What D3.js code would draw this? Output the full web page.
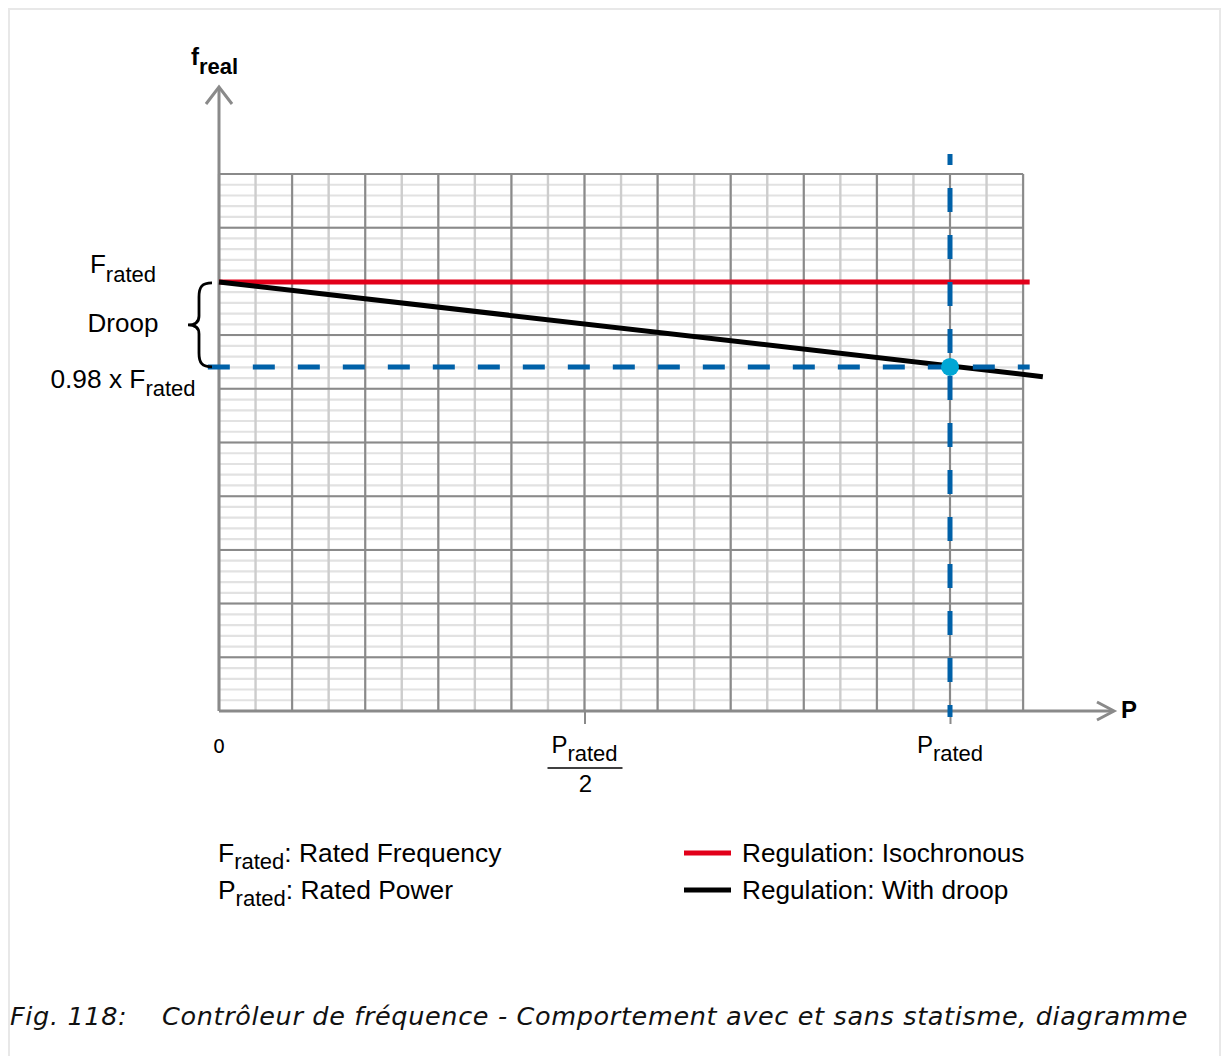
<!DOCTYPE html>
<html><head><meta charset="utf-8">
<script src="https://cdn.jsdelivr.net/npm/d3@7"></script>
<style>body{margin:0;background:#fff}svg{display:block}</style>
</head><body>
<svg id="c" width="1227" height="1056"></svg>
<script>
// ---- data ----
const pDomain = [0, 1.1];              // P / Prated
const fDomain = [0.899, 1.0254];       // f / Frated
const isoP = [0, 1.109];
const isoF = [1.0, 1.0];
const droopP = [0, 1.127];
const droopF = [1.0, 0.9777];
const ratedP = 1.0;
const droopF98 = 0.98;
const refHP = [-0.0153, 1.109];
const refVF = [0.8976, 1.0301];
const xTickValues = [0, 0.5, 1.0];
const xTickLabels = ["0", "Prated/2", "Prated"];
const legendItems = ["Regulation: Isochronous", "Regulation: With droop"];
const legendColors = ["#e2001a", "#000000"];
const noteItems = [["F", "rated", ": Rated Frequency"], ["P", "rated", ": Rated Power"]];

// ---- setup ----
const svg = d3.select("#c");
const FONT = "'Liberation Sans', Arial, sans-serif";
const x = d3.scaleLinear().domain(pDomain).range([219, 1023.1]);
const y = d3.scaleLinear().domain(fDomain).range([711, 174]);
const GRID_MAJOR = "#8a8a8a", GRID_MINOR_V = "#cdcdcd", GRID_MINOR_H = "#e2e2e2";
const BLUE = "#0061a8";

// frame
svg.append("rect").attr("x", 9).attr("y", 9).attr("width", 1211).attr("height", 1100)
  .attr("fill", "none").attr("stroke", "#e8e8e8").attr("stroke-width", 2);

// ---- grid ----
const span = fDomain[1] - fDomain[0];
const hMinor = d3.range(51).map(i => fDomain[0] + i * span / 50);
const hMajor = d3.range(11).map(i => fDomain[0] + i * span / 10);
const vMinor = d3.range(23).map(i => i * 0.05);
const vMajor = d3.range(12).map(i => i * 0.1);
const g = svg.append("g");
g.selectAll(".hm").data(hMinor).join("line")
  .attr("x1", x(pDomain[0])).attr("x2", x(pDomain[1]))
  .attr("y1", d => y(d)).attr("y2", d => y(d))
  .attr("stroke", GRID_MINOR_H).attr("stroke-width", 2.2);
g.selectAll(".vm").data(vMinor).join("line")
  .attr("y1", y(fDomain[0])).attr("y2", y(fDomain[1]))
  .attr("x1", d => x(d)).attr("x2", d => x(d))
  .attr("stroke", GRID_MINOR_V).attr("stroke-width", 2.4);
g.selectAll(".hM").data(hMajor).join("line")
  .attr("x1", x(pDomain[0])).attr("x2", x(pDomain[1]))
  .attr("y1", d => y(d)).attr("y2", d => y(d))
  .attr("stroke", GRID_MAJOR).attr("stroke-width", 2);
g.selectAll(".vM").data(vMajor).join("line")
  .attr("y1", y(fDomain[0])).attr("y2", y(fDomain[1]))
  .attr("x1", d => x(d)).attr("x2", d => x(d))
  .attr("stroke", GRID_MAJOR).attr("stroke-width", 2);

// ---- axes ----
const xAxis = d3.axisBottom(x).tickValues(xTickValues.slice(1)).tickSize(13).tickFormat("");
const ax = svg.append("g").attr("transform", `translate(0,${y(fDomain[0])})`).call(xAxis);
ax.select(".domain").remove();
ax.selectAll(".tick line").attr("stroke", GRID_MAJOR).attr("stroke-width", 2);

const x0 = x(0), yb = y(fDomain[0]);
svg.append("line").attr("x1", x0).attr("x2", x0).attr("y1", yb).attr("y2", 87)
  .attr("stroke", GRID_MAJOR).attr("stroke-width", 3);
svg.append("polyline").attr("points", `${x0-13},104 ${x0},87 ${x0+13},104`)
  .attr("fill", "none").attr("stroke", GRID_MAJOR).attr("stroke-width", 3);
svg.append("line").attr("x1", x0).attr("x2", 1113).attr("y1", yb).attr("y2", yb)
  .attr("stroke", GRID_MAJOR).attr("stroke-width", 3);
svg.append("polyline").attr("points", `1097,${yb-9} 1114,${yb} 1097,${yb+9}`)
  .attr("fill", "none").attr("stroke", GRID_MAJOR).attr("stroke-width", 3);

// ---- series ----
const line = d3.line().x(d => x(d[0])).y(d => y(d[1]));
svg.append("path").datum(d3.zip(isoP, isoF)).attr("d", line)
  .attr("fill", "none").attr("stroke", legendColors[0]).attr("stroke-width", 5);
svg.append("path").datum(d3.zip(droopP, droopF)).attr("d", line)
  .attr("fill", "none").attr("stroke", legendColors[1]).attr("stroke-width", 5);

// reference dashed lines
svg.append("path").datum([[refHP[0], droopF98], [refHP[1], droopF98]]).attr("d", line)
  .attr("fill", "none").attr("stroke", BLUE).attr("stroke-width", 5)
  .attr("stroke-dasharray", "22 23");
svg.append("path").datum([[ratedP, refVF[1]], [ratedP, refVF[0]]]).attr("d", line)
  .attr("fill", "none").attr("stroke", BLUE).attr("stroke-width", 5)
  .attr("stroke-dasharray", "24 23").attr("stroke-dashoffset", 13);

svg.append("circle").attr("cx", x(ratedP)).attr("cy", y(droopF98)).attr("r", 9)
  .attr("fill", "#00a7d5");

// ---- labels ----
function subText(parent, xp, yp, main, sub, rest, opts) {
  const o = Object.assign({size: 26, subSize: 22, dy: 8, anchor: "start", weight: "normal"}, opts);
  const t = parent.append("text").attr("x", xp).attr("y", yp)
    .attr("font-family", FONT).attr("font-size", o.size).attr("font-weight", o.weight)
    .attr("text-anchor", o.anchor).attr("fill", "#000");
  t.append("tspan").text(main);
  if (sub) t.append("tspan").attr("dy", o.dy).attr("font-size", o.subSize).text(sub);
  if (rest) t.append("tspan").attr("dy", sub ? -o.dy : 0).text(rest);
  return t;
}

// y axis title
subText(svg, 191, 65, "f", "real", null, {size: 24, subSize: 22, dy: 9, weight: "bold"});
// x axis title
svg.append("text").attr("x", 1121).attr("y", 718).attr("font-family", FONT)
  .attr("font-size", 24).attr("font-weight", "bold").text("P");

// left labels
subText(svg, 123, 273, "F", "rated", null, {anchor: "middle", dy: 9});
svg.append("text").attr("x", 123).attr("y", 332).attr("font-family", FONT)
  .attr("font-size", 26).attr("text-anchor", "middle").text("Droop");
subText(svg, 123, 388, "0.98 x F", "rated", null, {anchor: "middle", dy: 8, size: 26.3});

// brace
const bt = y(1.0) + 1, bb = y(droopF98), bm = (bt + bb) / 2;
svg.append("path")
  .attr("d", `M212,${bt} C202,${bt} 199,${bt+4} 199,${bt+14} L199,${bm-9} C199,${bm-3} 195,${bm} 188,${bm}
             C195,${bm} 199,${bm+3} 199,${bm+9} L199,${bb-14} C199,${bb-4} 202,${bb} 212,${bb}`)
  .attr("fill", "none").attr("stroke", "#000").attr("stroke-width", 2.8);

// x tick labels
svg.append("text").attr("x", x(xTickValues[0])).attr("y", 753)
  .attr("font-family", "'DejaVu Sans', sans-serif").attr("font-size", 19)
  .attr("text-anchor", "middle").text(xTickLabels[0]);
subText(svg, x(xTickValues[1]), 753, "P", "rated", null, {anchor: "middle", size: 24, dy: 8});
svg.append("line").attr("x1", x(xTickValues[1]) - 37).attr("x2", x(xTickValues[1]) + 38)
  .attr("y1", 768).attr("y2", 768).attr("stroke", "#000").attr("stroke-width", 1.5);
svg.append("text").attr("x", x(xTickValues[1]) + 1).attr("y", 792).attr("font-family", FONT)
  .attr("font-size", 24).attr("text-anchor", "middle").text("2");
subText(svg, x(xTickValues[2]), 753, "P", "rated", null, {anchor: "middle", size: 24, dy: 8});

// notes (left legend)
noteItems.forEach((n, i) => {
  subText(svg, 218, 862 + i * 37, n[0], n[1], n[2], {dy: 7, size: 26.4});
});

// legend (right)
legendItems.forEach((t, i) => {
  const ly = 853 + i * 37;
  svg.append("line").attr("x1", 684).attr("x2", 731).attr("y1", ly).attr("y2", ly)
    .attr("stroke", legendColors[i]).attr("stroke-width", 5);
  svg.append("text").attr("x", 742).attr("y", ly + 8.5).attr("font-family", FONT)
    .attr("font-size", 26.2).text(t);
});

// caption
const CAP = "'DejaVu Sans', sans-serif";
svg.append("text").attr("x", 10).attr("y", 1025).attr("font-family", CAP)
  .attr("font-style", "italic").attr("font-size", 25.5).attr("letter-spacing", 0.65)
  .attr("fill", "#111").text("Fig. 118:");
svg.append("text").attr("x", 162).attr("y", 1025).attr("font-family", CAP)
  .attr("font-style", "italic").attr("font-size", 25.5).attr("letter-spacing", 0.65)
  .attr("fill", "#111")
  .text("Contrôleur de fréquence - Comportement avec et sans statisme, diagramme");
</script>
</body></html>
